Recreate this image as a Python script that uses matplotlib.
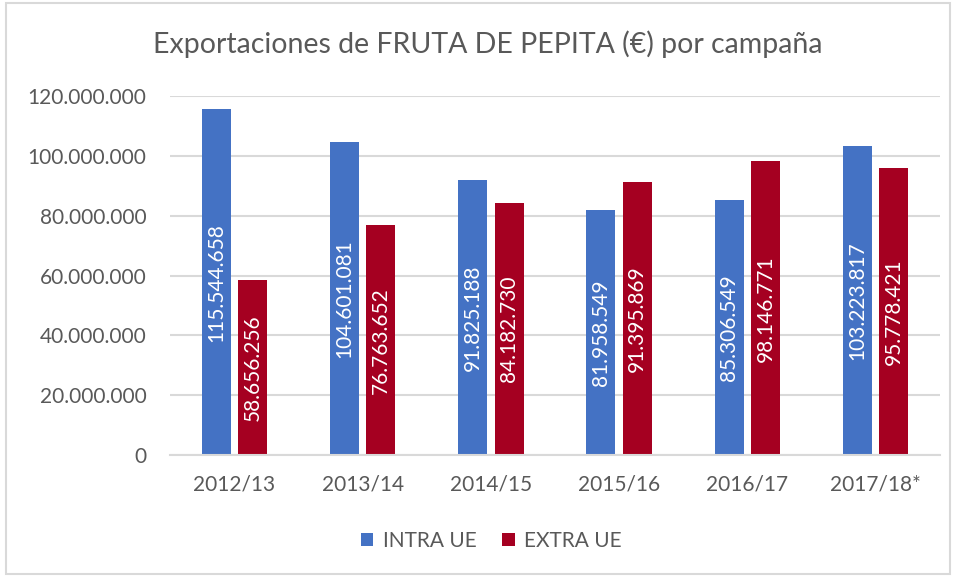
import numpy as np
import matplotlib.pyplot as plt
from matplotlib.patches import Rectangle
from matplotlib.ticker import FuncFormatter

campaigns = ["2012/13", "2013/14", "2014/15", "2015/16", "2016/17", "2017/18*"]
intra_ue = [115544658, 104601081, 91825188, 81958549, 85306549, 103223817]
extra_ue = [58656256, 76763652, 84182730, 91395869, 98146771, 95778421]

BLUE = "#4472C4"
RED = "#A50021"
GREY_TEXT = "#595959"
GRID = "#D9D9D9"

plt.rcParams['font.family'] = ['Lato', 'DejaVu Sans']


def dots(v):
    return f"{int(v):,}".replace(",", ".")


fig = plt.figure(figsize=(9.56, 5.77), dpi=100)
fig.patches.append(Rectangle((0.006, 0.006), 0.988, 0.988, transform=fig.transFigure,
                             fill=False, edgecolor=GRID, lw=1.5))
ax = fig.add_axes([0.178, 0.2114, 0.805, 0.6222])

x = np.arange(len(campaigns))
w = 0.226
off = 0.142
b1 = ax.bar(x - off, intra_ue, w, color=BLUE, zorder=2, label="INTRA UE")
b2 = ax.bar(x + off, extra_ue, w, color=RED, zorder=2, label="EXTRA UE")

for bars in (b1, b2):
    for r in bars:
        h = r.get_height()
        ax.text(r.get_x() + r.get_width() / 2, h / 2, dots(h), rotation=90,
                ha="center", va="center", color="white", fontsize=15, zorder=3)

ax.set_xlim(-0.5, len(campaigns) - 0.5)
ax.set_ylim(0, 120000000)
ax.set_yticks(np.arange(0, 120000001, 20000000))
ax.yaxis.set_major_formatter(FuncFormatter(lambda v, p: dots(v)))
ax.set_xticks(x)
ax.set_xticklabels(campaigns)
ax.tick_params(axis="both", length=0, labelsize=15, labelcolor=GREY_TEXT)
ax.tick_params(axis="y", pad=17)
ax.tick_params(axis="x", pad=14)
ax.grid(axis="y", color=GRID, lw=1.5, zorder=0)
for s in ["top", "right", "left"]:
    ax.spines[s].set_visible(False)
ax.spines["bottom"].set_color(GRID)
ax.spines["bottom"].set_linewidth(1.5)

fig.text(0.51, 0.924, "Exportaciones de FRUTA DE PEPITA (€) por campaña",
         ha="center", va="center", fontsize=20.5, color=GREY_TEXT)

fig.legend(loc="center", bbox_to_anchor=(0.514, 0.062), ncol=2, frameon=False,
           fontsize=15, handlelength=0.6, handleheight=0.6, handletextpad=0.45,
           columnspacing=1.25, labelcolor=GREY_TEXT)

fig.savefig("out.png", dpi=100)
